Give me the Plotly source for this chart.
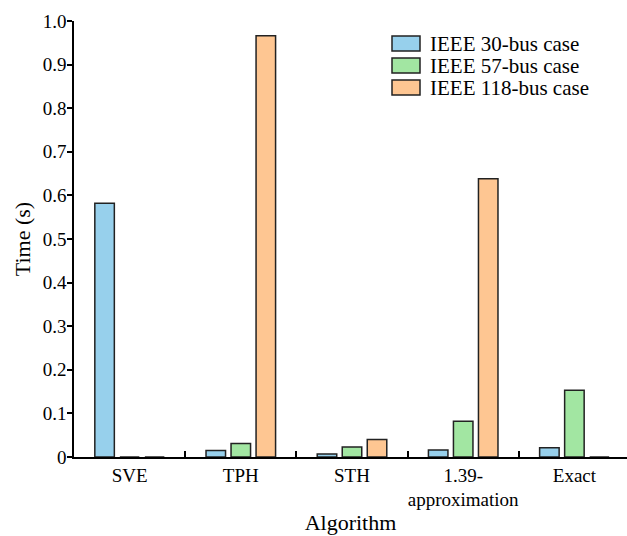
import plotly.graph_objects as go

categories = ["SVE", "TPH", "STH", "1.39-<br>approximation", "Exact"]
series_names = ["IEEE 30-bus case", "IEEE 57-bus case", "IEEE 118-bus case"]
ieee30 = [0.582, 0.015, 0.007, 0.016, 0.021]
ieee57 = [0.0, 0.031, 0.023, 0.082, 0.153]
ieee118 = [0.0, 0.966, 0.040, 0.638, 0.0]
colors = ["#97D0EC", "#A2E6A2", "#FEC692"]
y_ticks = [0, 0.1, 0.2, 0.3, 0.4, 0.5, 0.6, 0.7, 0.8, 0.9, 1.0]
y_ticklabels = ["0", "0.1", "0.2", "0.3", "0.4", "0.5", "0.6", "0.7", "0.8", "0.9", "1.0"]

font_family = "Liberation Serif, Times New Roman, DejaVu Serif, serif"

W, H = 627, 536
ML, MR, MT, MB = 74, 0, 21, 79
PW, PH = W - ML - MR, H - MT - MB


def px_x(p):
    return (p - ML) / PW


def px_y(p):
    return 1 - (p - MT) / PH


fig = go.Figure()
for name, vals, col in zip(series_names, [ieee30, ieee57, ieee118], colors):
    fig.add_trace(go.Bar(
        x=categories, y=vals, name=name, showlegend=False,
        marker=dict(color=col, line=dict(color="#222222", width=1.5)),
    ))

# custom legend (wide boxes like the reference)
for i, (name, col) in enumerate(zip(series_names, colors)):
    top = 36 + 22 * i
    fig.add_shape(
        type="rect", xref="paper", yref="paper",
        x0=px_x(392), x1=px_x(420), y0=px_y(top + 15), y1=px_y(top),
        fillcolor=col, line=dict(color="#222222", width=1.5),
    )
    fig.add_annotation(
        xref="paper", yref="paper", x=px_x(428), y=px_y(top + 7.5),
        xanchor="left", yanchor="middle", showarrow=False, text=name,
        font=dict(family=font_family, size=21, color="black"),
    )

fig.update_layout(
    width=W, height=H,
    margin=dict(l=ML, r=MR, t=MT, b=MB),
    paper_bgcolor="white", plot_bgcolor="white",
    barmode="group", bargap=0.325, bargroupgap=0.22,
    font=dict(family=font_family, size=19, color="black"),
    showlegend=False,
    xaxis=dict(
        type="category", range=[-0.5, 4.473], automargin=False,
        showline=True, linecolor="black", linewidth=1.5,
        ticks="inside", tickson="boundaries", ticklen=6, tickcolor="black", tickwidth=1.5,
        tickangle=0,
        showgrid=False, zeroline=False,
        tickfont=dict(family=font_family, size=19, color="black"),
        title=dict(text="Algorithm", font=dict(family=font_family, size=22, color="black"), standoff=5),
    ),
    yaxis=dict(
        range=[0, 1.0], automargin=False,
        tickvals=y_ticks, ticktext=y_ticklabels,
        showline=True, linecolor="black", linewidth=1.5,
        ticks="outside", ticklen=5, tickcolor="black", tickwidth=1.5,
        ticklabelstandoff=-3,
        showgrid=False, zeroline=False,
        tickfont=dict(family=font_family, size=19, color="black"),
        title=dict(text="Time (s)", font=dict(family=font_family, size=22, color="black"), standoff=6),
    ),
)

fig.write_html("out.html", post_script="document.body.style.margin='0';",
               config={"displayModeBar": False})
